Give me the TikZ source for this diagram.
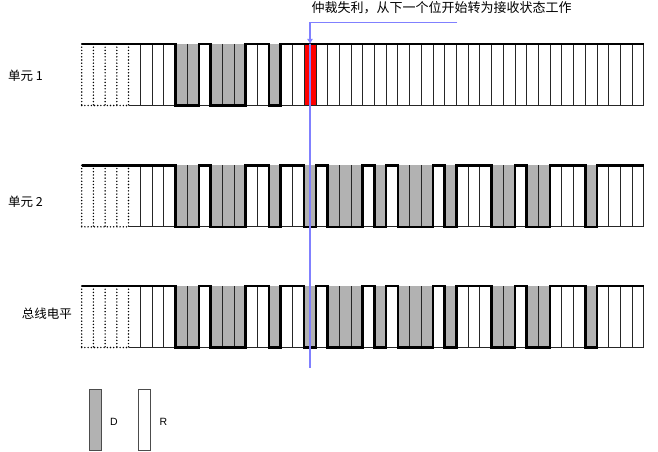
\documentclass[tikz,border=0pt]{standalone}
\usepackage{fontspec}
\setmainfont{Liberation Sans}
\newfontfamily\cjk{Noto Sans CJK SC}
\usetikzlibrary{arrows.meta}

% bit levels, 1 = recessive (R), 0 = dominant (D)
\newcommand\unitonebits{1,1,1,1,1,1,1,1,0,0,1,0,0,0,1,1,0,1,1,1,1,1,1,1,1,1,1,1,1,1,1,1,1,1,1,1,1,1,1,1,1,1,1,1,1,1,1,1}
\newcommand\busbits{1,1,1,1,1,1,1,1,0,0,1,0,0,0,1,1,0,1,1,0,1,0,0,0,1,0,1,0,0,0,1,0,1,1,1,0,0,1,0,0,1,1,1,0,1,1,1,1}
\newcommand\bitw{11.71}
\newcommand\wavex{81.7}
\newcommand\rowh{61.5}

% one row of bits: #1 = top edge, #2 = list of levels
\newcommand\drawbitrow[2]{%
  \foreach \v [count=\i from 0] in #2 {
    \ifnum\v=0 \fill[dombit] ({\wavex+\i*\bitw},#1) rectangle ++(\bitw,\rowh); \fi
  }
  \foreach \i in {5,...,48}
    \draw[bitline] ({\wavex+\i*\bitw},#1) -- ++(0,\rowh);
  \draw[bitline] ({\wavex+4*\bitw},{#1+\rowh}) -- ({\wavex+48*\bitw},{#1+\rowh});
  \foreach \i in {0,...,4}
    \draw[lead] ({\wavex+\i*\bitw},#1) -- ++(0,\rowh);
  \draw[lead] (\wavex,{#1+\rowh}) -- ++({4*\bitw},0);
  \draw[wave] (\wavex,#1) \foreach \v [count=\i from 0] in #2 {
    -- ({\wavex+\i*\bitw},{#1+(1-\v)*\rowh}) -- ({\wavex+(\i+1)*\bitw},{#1+(1-\v)*\rowh})
  };
}

\begin{document}
\begin{tikzpicture}[x=1pt,y=-1pt,
    dombit/.style={fill=black!30},
    lostbit/.style={fill=red},
    bitline/.style={black!85,line width=0.8pt},
    lead/.style={line width=1.6pt,line cap=round,dash pattern=on 0pt off 3.2pt},
    wave/.style={line width=2.6pt,line join=miter},
    marker/.style={blue!50,line width=1.2pt},
    rowlabel/.style={font=\cjk\fontsize{12.5}{15}\selectfont,inner sep=0pt,anchor=west},
    keybox/.style={draw=black!70,line width=0.8pt,minimum width=12.4pt,minimum height=61pt,inner sep=0pt},
    keytext/.style={font=\fontsize{10.5}{12}\selectfont,inner sep=0pt}]
  \useasboundingbox (0,0) rectangle (658,452);

  % unit 1 loses arbitration at bit 19
  \fill[lostbit] ({\wavex+19*\bitw},44) rectangle ++(\bitw,\rowh);
  \drawbitrow{44}{\unitonebits}
  \drawbitrow{165.3}{\busbits}
  \drawbitrow{286}{\busbits}

  \node[rowlabel] (unitone) at (8,76) {单元 1};
  \node[rowlabel] (unittwo) at (8,201.7) {单元 2};
  \node[rowlabel] (buslevel) at (21.7,313.3) {总线电平};

  \node[rowlabel,font=\cjk\fontsize{13}{15}\selectfont] (lossnote) at (311.5,8) {仲裁失利，从下一个位开始转为接收状态工作};
  \coordinate (hookend) at (457.3,22.3);
  \coordinate (lossbit) at (310,44);
  \coordinate (markfoot) at (310,368);
  \draw[marker,-{Latex[length=5pt,width=6pt]}] (hookend) -| (lossbit);
  \draw[marker] (lossbit) -- (markfoot);

  % legend
  \node[keybox,fill=black!30] (dkey) at (95.5,419.5) {};
  \node[keybox,fill=white] (rkey) at (144.2,419.5) {};
  \node[keytext] (dtext) at (114,422) {D};
  \node[keytext] (rtext) at (163.3,422) {R};
\end{tikzpicture}
\end{document}
